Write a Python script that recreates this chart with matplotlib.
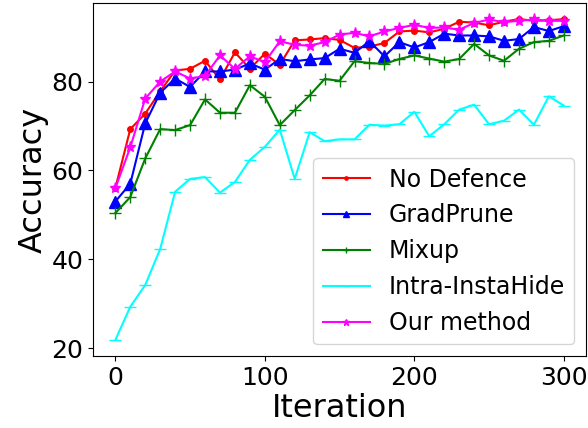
import numpy as np
import matplotlib.pyplot as plt

iterations = np.arange(0, 301, 10)

no_defence = [56.0, 69.3, 72.8, 77.8, 82.5, 82.9, 84.7, 80.5, 86.6, 82.9,
              86.3, 83.8, 89.3, 89.5, 89.8, 89.4, 87.6, 87.9, 88.7, 91.3,
              91.5, 91.1, 91.9, 93.5, 93.3, 92.7, 93.5, 94.1, 93.7, 93.8, 94.1]
grad_prune = [53.0, 57.0, 70.6, 77.5, 80.7, 78.8, 82.3, 82.3, 82.7, 84.1,
              82.7, 85.1, 84.6, 85.0, 85.3, 87.4, 86.5, 89.1, 85.7, 88.9,
              87.7, 88.9, 90.8, 90.4, 90.4, 90.2, 89.2, 89.6, 92.3, 91.4, 92.5]
mixup = [50.4, 54.0, 62.7, 69.3, 69.1, 70.2, 76.0, 73.0, 73.0, 79.2,
         76.6, 70.2, 73.6, 76.9, 80.6, 80.2, 84.6, 84.2, 84.0, 85.1,
         85.9, 85.2, 84.5, 85.1, 88.5, 85.9, 84.7, 87.4, 88.9, 89.2, 90.4]
intra_instahide = [21.8, 29.3, 34.2, 42.3, 55.2, 58.1, 58.5, 55.0, 57.4, 62.4,
                   65.3, 69.2, 58.1, 68.6, 66.6, 67.0, 67.0, 70.3, 70.1, 70.4,
                   73.2, 67.7, 70.4, 73.7, 74.8, 70.4, 71.2, 73.7, 70.3, 76.7, 74.6]
our_method = [56.0, 65.2, 76.2, 80.0, 82.3, 80.7, 81.3, 85.9, 82.9, 85.7,
              84.4, 89.1, 88.3, 88.1, 88.9, 90.6, 91.0, 90.2, 91.3, 92.1,
              92.8, 92.1, 92.2, 91.7, 93.2, 94.0, 93.4, 93.7, 94.0, 93.7, 93.7]

fig = plt.figure(figsize=(5.88, 4.28), dpi=100)
ax = fig.add_axes([0.158, 0.168, 0.839, 0.825])

ax.plot(iterations, no_defence, color='red', marker='.', markersize=8, linewidth=1.5, label='No Defence')
ax.plot(iterations, grad_prune, color='blue', marker='^', markersize=8, linewidth=1.5, label='GradPrune')
ax.plot(iterations, mixup, color='green', marker='+', markersize=8, linewidth=1.5, label='Mixup')
ax.plot(iterations, intra_instahide, color='cyan', marker='_', markersize=8, linewidth=1.5, label='Intra-InstaHide')
ax.plot(iterations, our_method, color='magenta', marker='*', markersize=8, linewidth=1.5, label='Our method')

ax.set_xlabel('Iteration', fontsize=23, labelpad=2)
ax.set_ylabel('Accuracy', fontsize=23, labelpad=2)
ax.tick_params(labelsize=18)
ax.set_xticks([0, 100, 200, 300])
ax.set_yticks([20, 40, 60, 80])
ax.legend(fontsize=17, loc='lower right', markerscale=0.6)

plt.savefig('out.png', dpi=100)
